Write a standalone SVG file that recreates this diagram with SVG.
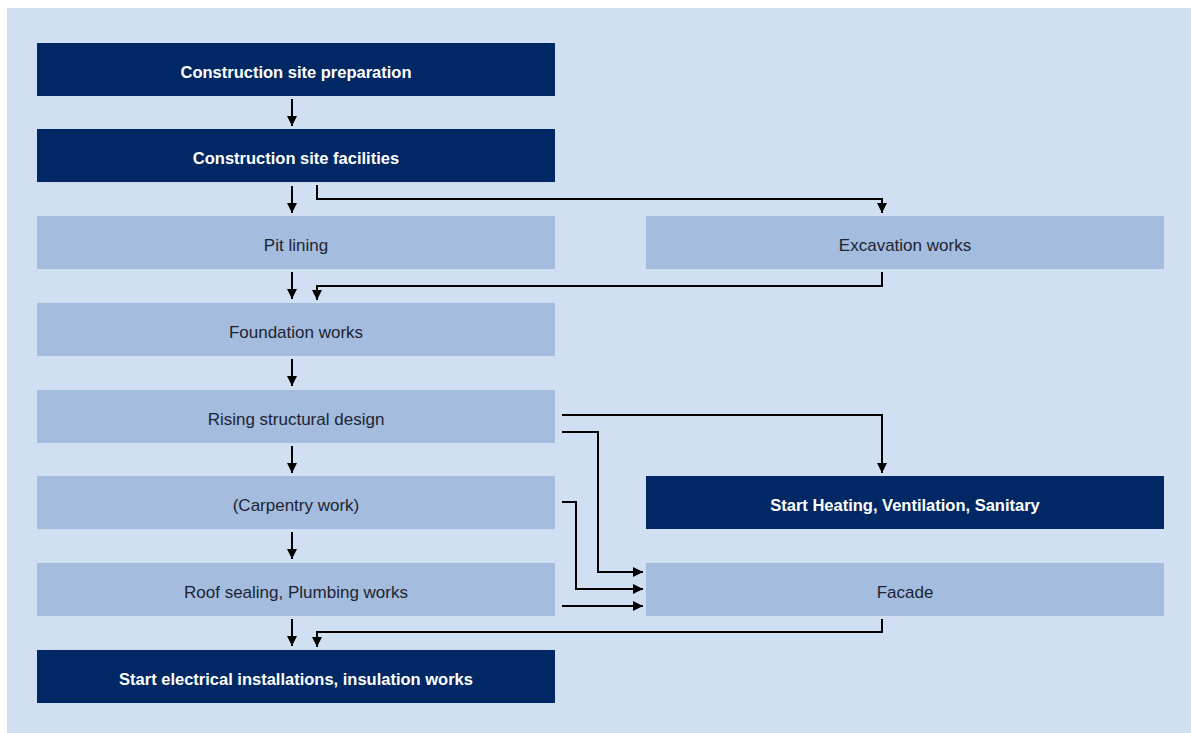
<svg xmlns="http://www.w3.org/2000/svg" width="1191" height="733" viewBox="0 0 1191 733">
<style>
.dark{fill:#002864}
.light{fill:#a4bcdd}
.td{font-family:"Liberation Sans",Arial,sans-serif;font-size:16.5px;font-weight:bold;fill:#ffffff;text-anchor:middle;dominant-baseline:central}
.tl{font-family:"Liberation Sans",Arial,sans-serif;font-size:17px;fill:#1c2433;text-anchor:middle;dominant-baseline:central}
.c{fill:none;stroke:#000;stroke-width:2;marker-end:url(#ah)}
</style>
<defs>
<marker id="ah" viewBox="0 0 10 10" refX="10" refY="5" markerWidth="5" markerHeight="5" orient="auto" markerUnits="strokeWidth">
<path d="M0,0 L10,5 L0,10 z" fill="#000"/>
</marker>
</defs>
<rect x="0" y="0" width="1191" height="733" fill="#ffffff"/>
<rect x="7" y="8" width="1184" height="725" fill="#d0e0f2"/>
<g id="n1"><rect class="dark" x="37" y="43" width="518" height="53"/><text class="td" x="296" y="72">Construction site preparation</text></g>
<g id="n2"><rect class="dark" x="37" y="129" width="518" height="53"/><text class="td" x="296" y="158">Construction site facilities</text></g>
<g id="n3"><rect class="light" x="37" y="216" width="518" height="53"/><text class="tl" x="296" y="245">Pit lining</text></g>
<g id="n4"><rect class="light" x="646" y="216" width="518" height="53"/><text class="tl" x="905" y="245">Excavation works</text></g>
<g id="n5"><rect class="light" x="37" y="303" width="518" height="53"/><text class="tl" x="296" y="332">Foundation works</text></g>
<g id="n6"><rect class="light" x="37" y="390" width="518" height="53"/><text class="tl" x="296" y="419">Rising structural design</text></g>
<g id="n7"><rect class="light" x="37" y="476" width="518" height="53"/><text class="tl" x="296" y="505">(Carpentry work)</text></g>
<g id="n8"><rect class="dark" x="646" y="476" width="518" height="53"/><text class="td" x="905" y="505">Start Heating, Ventilation, Sanitary</text></g>
<g id="n9"><rect class="light" x="37" y="563" width="518" height="53"/><text class="tl" x="296" y="592">Roof sealing, Plumbing works</text></g>
<g id="n10"><rect class="light" x="646" y="563" width="518" height="53"/><text class="tl" x="905" y="592">Facade</text></g>
<g id="n11"><rect class="dark" x="37" y="650" width="518" height="53"/><text class="td" x="296" y="679">Start electrical installations, insulation works</text></g>
<g id="connectors">
<path class="c" d="M292,99 V126"/>
<path class="c" d="M292,186 V213"/>
<path class="c" d="M317,185 V199 H882 V213"/>
<path class="c" d="M292,272 V299"/>
<path class="c" d="M882,272 V286 H317 V300"/>
<path class="c" d="M292,359 V386"/>
<path class="c" d="M292,446 V473"/>
<path class="c" d="M292,532 V559"/>
<path class="c" d="M292,619 V646"/>
<path class="c" d="M882,619 V632 H317 V647"/>
<path class="c" d="M562,415 H882 V473"/>
<path class="c" d="M562,432 H598 V572 H643"/>
<path class="c" d="M562,502 H576 V589 H643"/>
<path class="c" d="M562,606 H643"/>
</g>
</svg>
